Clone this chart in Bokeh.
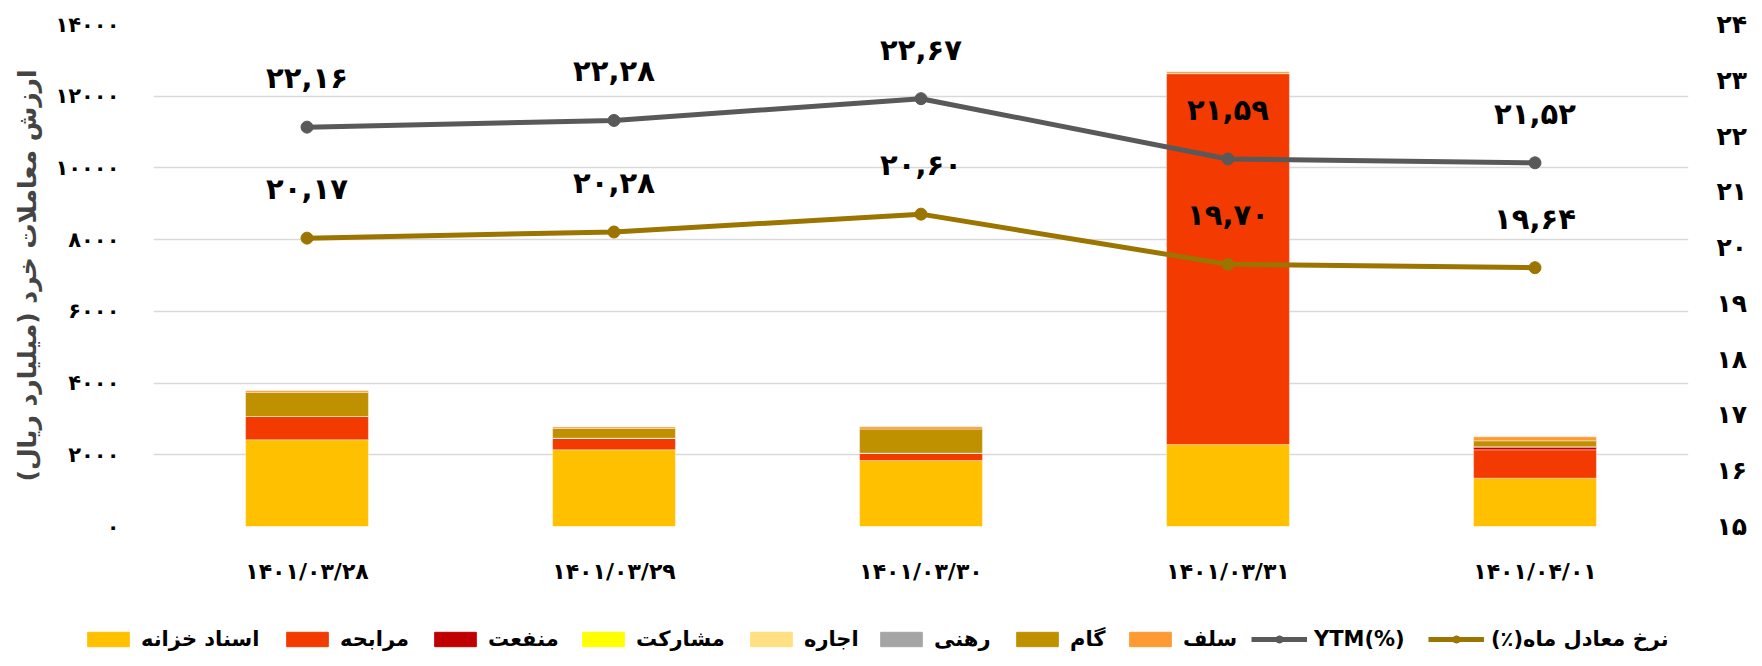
from bokeh.plotting import figure
from bokeh.models import (Range1d, LinearAxis, FixedTicker, Legend, LegendItem,
                          ColumnDataSource, FactorRange)
from bokeh.embed import file_html
from bokeh.resources import INLINE
from bokeh.core.properties import value

PD = str.maketrans("0123456789", "۰۱۲۳۴۵۶۷۸۹")
def fa(s):
    return str(s).translate(PD)
RLM = "\u200f"

# ---------------- data ----------------
dates = ["1401/03/28", "1401/03/29", "1401/03/30", "1401/03/31", "1401/04/01"]
series_names = ["اسناد خزانه", "مرابحه", "منفعت", "مشارکت", "اجاره", "رهنی", "گام", "سلف"]
treasury   = [2418, 2139, 1840, 2287, 1349]
murabaha   = [650, 326, 207, 10345, 790]
manfaat    = [0, 0, 0, 0, 83]
mosharekat = [0, 0, 0, 0, 0]
ejare      = [0, 0, 0, 0, 0]
rahni      = [0, 0, 0, 0, 0]
gam        = [670, 268, 669, 0, 167]
salaf      = [45, 40, 64, 50, 111]
ytm        = [22.16, 22.28, 22.67, 21.59, 21.52]
monthly    = [20.17, 20.28, 20.60, 19.70, 19.64]
left_ticks = [0, 2000, 4000, 6000, 8000, 10000, 12000, 14000]
right_ticks = [15, 16, 17, 18, 19, 20, 21, 22, 23, 24]
y_title = "ارزش معاملات خرد (میلیارد ریال)"
ytm_name = "YTM(%)"
monthly_name = "نرخ معادل ماه(٪)"

colors = ["#FFC000", "#F33A00", "#C00000", "#FFFF00", "#FFE082", "#A5A5A5", "#BF9000", "#FF9933"]
GRAY = "#595959"
GOLD = "#9C7400"
FONT = "DejaVu Sans"

cats = [fa(d) for d in dates]
keys = ["s%d" % i for i in range(8)]
data = dict(x=cats)
for k, v in zip(keys, [treasury, murabaha, manfaat, mosharekat, ejare, rahni, gam, salaf]):
    data[k] = v
src = ColumnDataSource(data)

W = 1754
p = figure(x_range=FactorRange(*cats), y_range=Range1d(0, 14000),
           width=W, height=597, output_backend="svg", toolbar_location=None,
           min_border_left=153, min_border_right=66, min_border_top=24, min_border_bottom=71)
p.outline_line_color = None
p.background_fill_color = "white"
p.border_fill_color = "white"

p.vbar_stack(keys, x="x", width=0.4, source=src, color=colors,
             line_color="white", line_width=0.6, line_alpha=0.6)

p.extra_y_ranges = {"r": Range1d(15, 24)}
raxis = LinearAxis(y_range_name="r")
p.add_layout(raxis, "right")

lsrc = ColumnDataSource(dict(x=cats, ytm=ytm, mon=monthly,
                             ytm_t=[fa("%.2f" % v).replace(".", ",") for v in ytm],
                             mon_t=[fa("%.2f" % v).replace(".", ",") for v in monthly]))
p.line("x", "ytm", source=lsrc, y_range_name="r", color=GRAY, line_width=5)
p.scatter("x", "ytm", source=lsrc, y_range_name="r", color=GRAY, size=12)
p.line("x", "mon", source=lsrc, y_range_name="r", color=GOLD, line_width=5)
p.scatter("x", "mon", source=lsrc, y_range_name="r", color=GOLD, size=12)

for col, tcol in (("ytm", "ytm_t"), ("mon", "mon_t")):
    p.text("x", col, text=tcol, source=lsrc, y_range_name="r", y_offset=-49,
           text_align="center", text_baseline="middle", text_font=value(FONT),
           text_font_size="29px", text_font_style="bold", text_color="black")

# axes
for ax, ticks, fs in ((p.yaxis[0], left_ticks, "21px"), (raxis, right_ticks, "25px")):
    ax.ticker = FixedTicker(ticks=ticks)
    ax.major_label_overrides = {t: fa(t) for t in ticks}
    ax.axis_line_color = None
    ax.major_tick_line_color = None
    ax.minor_tick_line_color = None
    ax.major_label_text_font = FONT
    ax.major_label_text_font_size = fs
    ax.major_label_text_font_style = "bold"
    ax.major_label_text_color = "black"
p.yaxis[0].major_label_standoff = 28
raxis.major_label_standoff = 22
p.yaxis[0].axis_label = y_title + RLM
p.yaxis[0].axis_label_text_font = FONT
p.yaxis[0].axis_label_text_font_size = "25px"
p.yaxis[0].axis_label_text_font_style = "bold"
p.yaxis[0].axis_label_standoff = 10

xa = p.xaxis[0]
xa.axis_line_color = None
xa.major_tick_line_color = None
xa.minor_tick_line_color = None
xa.major_label_text_font = FONT
xa.major_label_text_font_size = "22px"
xa.major_label_text_font_style = "bold"
xa.major_label_text_color = "black"
xa.major_label_standoff = 26

p.xgrid.grid_line_color = None
p.ygrid.grid_line_color = "#D9D9D9"
p.ygrid.grid_line_width = 1.5
p.ygrid.ticker = FixedTicker(ticks=left_ticks)

# ---------------- legend strip (separate root, not frame-aligned) ----------------
lg = figure(width=W, height=60, output_backend="svg", toolbar_location=None,
            x_range=Range1d(0, 1), y_range=Range1d(0, 1),
            x_axis_type=None, y_axis_type=None,
            min_border_left=0, min_border_right=0, min_border_top=0, min_border_bottom=0)
lg.outline_line_color = None
lg.xgrid.visible = False
lg.ygrid.visible = False
hidden = ColumnDataSource(dict(x=[5.0], y=[5.0], top=[6.0]))  # outside the strip's view
entries = []
for n, c in zip(series_names, colors):
    r = lg.vbar(x="x", top="top", bottom="y", width=0.1, source=hidden, color=c)
    entries.append((n, [r], 52))
for n, c in ((ytm_name, GRAY), (RLM + monthly_name + RLM, GOLD)):
    r1 = lg.line("x", "y", source=hidden, color=c, line_width=5)
    r2 = lg.scatter("x", "y", source=hidden, color=c, size=12)
    entries.append((n, [r1, r2], 56))

legend_x = [82, 281, 429, 577, 745, 875, 1011, 1124, 1251, 1428]
for (n, rs, gw), lx in zip(entries, legend_x):
    leg = Legend(items=[LegendItem(label=n, renderers=rs)], location=(lx, 6),
                 orientation="horizontal", glyph_width=gw, glyph_height=18,
                 label_standoff=7, label_height=18, spacing=0,
                 padding=0, margin=0, border_line_alpha=0, background_fill_alpha=0,
                 label_text_font=FONT, label_text_font_size="21px",
                 label_text_font_style="bold", label_text_color="black")
    lg.add_layout(leg, "center")

open("out.html", "w").write(file_html([p, lg], INLINE))
